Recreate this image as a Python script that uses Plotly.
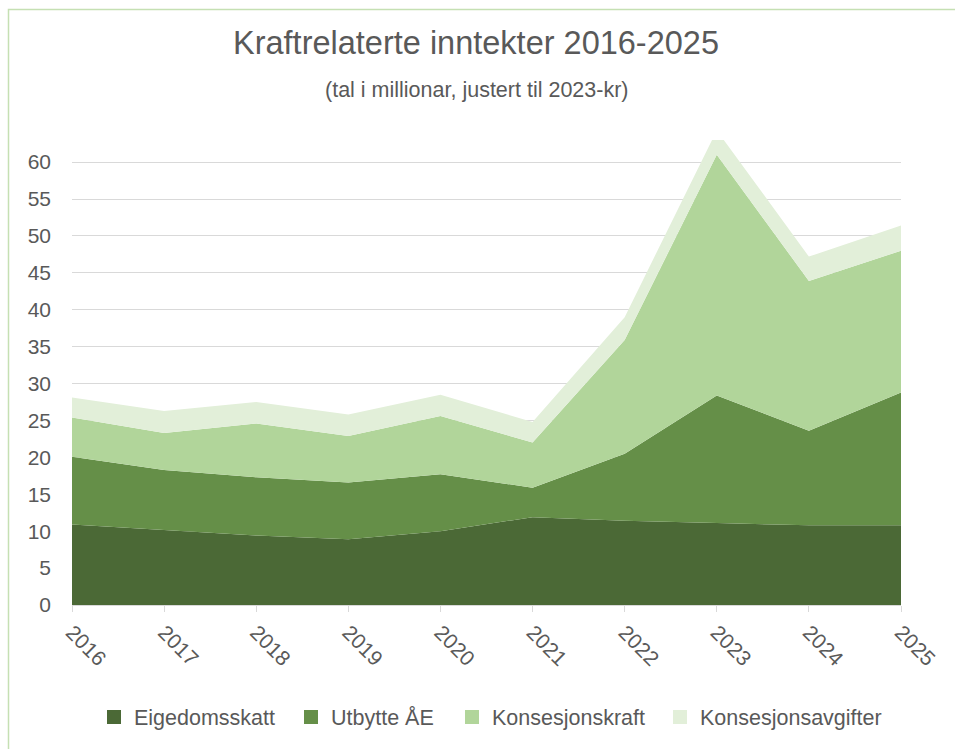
import plotly.graph_objects as go

years = [2016, 2017, 2018, 2019, 2020, 2021, 2022, 2023, 2024, 2025]
eigedomsskatt = [10.9, 10.1, 9.4, 8.9, 10.0, 11.9, 11.4, 11.1, 10.8, 10.8]
utbytte_ae = [9.2, 8.2, 7.9, 7.7, 7.7, 4.0, 9.1, 17.3, 12.8, 18.0]
konsesjonskraft = [5.3, 5.0, 7.3, 6.3, 7.9, 6.1, 15.4, 32.6, 20.3, 19.2]
konsesjonsavgifter = [2.7, 3.0, 2.9, 2.9, 2.9, 2.8, 3.1, 3.3, 3.3, 3.4]

series = [
    ("Eigedomsskatt", eigedomsskatt, "#4b6936"),
    ("Utbytte ÅE", utbytte_ae, "#658f48"),
    ("Konsesjonskraft", konsesjonskraft, "#b1d59a"),
    ("Konsesjonsavgifter", konsesjonsavgifter, "#e2efd9"),
]

FONT = "Liberation Sans, Arial"
GRAY = "#595959"

L, R, T, B = 72, 54, 140, 144
W, H = 955, 749
pw, ph = W - L - R, H - T - B

def px(xp):
    return (xp - L) / pw

def py(yp):
    return (H - B - yp) / ph

fig = go.Figure()
for name, vals, col in series:
    fig.add_trace(go.Scatter(
        x=years, y=vals, name=name, mode="lines",
        stackgroup="one", line=dict(width=0, color=col),
        fillcolor=col, showlegend=False,
    ))

legend_ids = ["legend", "legend2", "legend3", "legend4"]
legend_sq_centers = [114, 311, 472, 680]
for (name, vals, col), lid in zip(series, legend_ids):
    fig.add_trace(go.Scatter(
        x=[None], y=[None], name=name, mode="markers",
        marker=dict(symbol="square", size=14, color=col),
        showlegend=True, legend=lid,
    ))

legend_layout = {}
for lid, cx in zip(legend_ids, legend_sq_centers):
    legend_layout[lid] = dict(
        orientation="h", x=px(cx - 20), xanchor="left", y=py(717), yanchor="middle",
        font=dict(size=21.5, color=GRAY, family=FONT), itemwidth=30,
        bgcolor="rgba(0,0,0,0)", borderwidth=0,
    )

fig.update_layout(
    width=W, height=H,
    margin=dict(l=L, r=R, t=T, b=B),
    paper_bgcolor="white", plot_bgcolor="white",
    font=dict(family=FONT, color=GRAY, size=21),
    showlegend=True,
    xaxis=dict(range=[2016, 2025], tickmode="array", tickvals=years,
               ticktext=[str(y) for y in years], tickangle=45,
               showgrid=False, showline=True, linecolor="#d9d9d9", linewidth=1,
               ticks="outside", ticklen=6, tickcolor="#d9d9d9",
               tickfont=dict(size=21, color=GRAY), zeroline=False),
    yaxis=dict(range=[0, 63], tickmode="array", tickvals=list(range(0, 61, 5)),
               showgrid=True, gridcolor="#d9d9d9", gridwidth=1,
               zeroline=False, showline=False, ticks="",
               tickfont=dict(size=21, color=GRAY), ticklabelstandoff=20),
    annotations=[
        dict(text="Kraftrelaterte inntekter 2016-2025", x=px(476), y=py(43),
             xref="paper", yref="paper", showarrow=False, xanchor="center", yanchor="middle",
             font=dict(size=32.5, color=GRAY, family=FONT)),
        dict(text="(tal i millionar, justert til 2023-kr)", x=px(476), y=py(90),
             xref="paper", yref="paper", showarrow=False, xanchor="center", yanchor="middle",
             font=dict(size=21.5, color=GRAY, family=FONT)),
    ],
    shapes=[
        dict(type="rect", xref="paper", yref="paper", x0=px(8.5), x1=px(1000),
             y0=py(800), y1=py(9.5), line=dict(color="#c5e0b3", width=1.5),
             fillcolor="rgba(0,0,0,0)", layer="below"),
    ],
    **legend_layout,
)

fig.write_html("out.html", config={"displayModeBar": False},
               post_script="document.body.style.margin='0';document.body.style.overflow='hidden';")
